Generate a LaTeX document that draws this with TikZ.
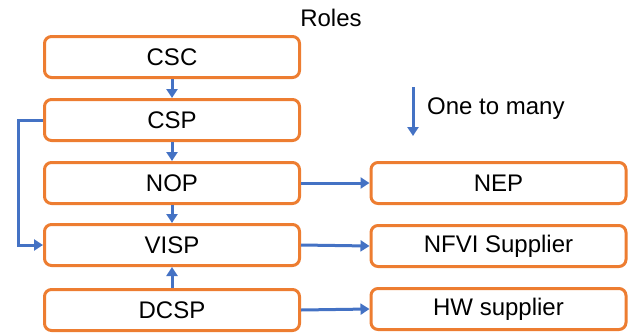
\documentclass[tikz,border=0pt]{standalone}
\usepackage{fontspec}
\setmainfont{Liberation Sans}
\usetikzlibrary{arrows.meta,positioning}
\definecolor{roleorange}{HTML}{ED7D31}
\definecolor{linkblue}{HTML}{4472C4}
\tikzset{
  role/.style={draw=roleorange, line width=3pt, rounded corners=7pt,
    minimum width=255pt, minimum height=41pt, inner sep=0pt,
    font=\fontsize{24}{28}\selectfont},
  link/.style={draw=linkblue, line width=3pt, -{Triangle[length=9pt,width=11pt]}},
  label/.style={font=\fontsize{24}{28}\selectfont, inner sep=0pt}
}

\begin{document}
\begin{tikzpicture}[x=1pt,y=-1pt]
\useasboundingbox (0,0) rectangle (634,335);
% roles on the left
\node[role] (csc) at (172,57) {CSC};
\node[role] (csp) at (172,120) {CSP};
\node[role] (nop) at (172,183) {NOP};
\node[role] (visp) at (172,245) {VISP};
\node[role] (dcsp) at (172,310) {DCSP};
% suppliers on the right
\node[role] (nep) at (498.5,183) {NEP};
\node[role] (nfvi) at (498.5,246) {NFVI Supplier};
\node[role] (hw) at (498.5,309) {HW supplier};
% title and legend
\node[label] (roles) at (331,18) {Roles};
\coordinate (legtop) at (413,87);
\coordinate (legbot) at (413,136);
\node[label, anchor=west] (legend) at (427,109) {One to many};
\draw[link] (legtop) -- (legbot);
% links
\draw[link] (csc) -- (csp);
\draw[link] (csp) -- (nop);
\draw[link] (nop) -- (visp);
\draw[link] (dcsp) -- (visp);
\draw[link] (csp.west) -- ++(-25,0) |- (visp.west);
\draw[link] (nop) -- (nep);
\draw[link] (visp.east) -- (nfvi.west);
\draw[link] (dcsp.east) -- (hw.west);
\end{tikzpicture}
\end{document}
